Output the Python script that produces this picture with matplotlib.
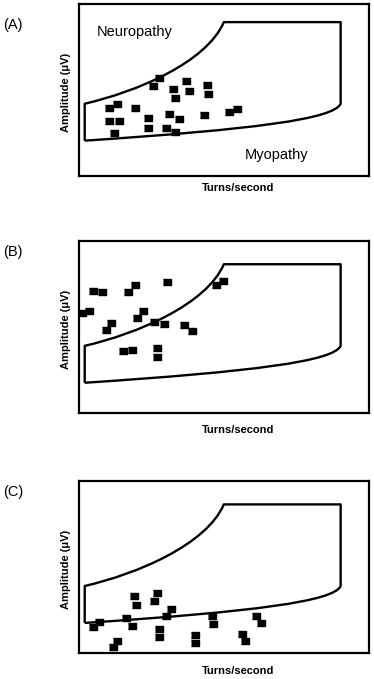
import matplotlib
matplotlib.use("Agg")
import matplotlib.pyplot as plt
from matplotlib.path import Path
from matplotlib.patches import PathPatch
from matplotlib.transforms import Affine2D

plt.rcParams['font.family'] = ['Liberation Sans', 'DejaVu Sans']

# scatter points per panel (x: turns/second, y: amplitude, arbitrary 0-100 units)
a_x = [10.5, 13.0, 19.5, 10.5, 13.9, 12.1, 25.6, 27.7, 32.4, 33.2, 36.9, 38.0,
       44.2, 44.4, 24.0, 23.7, 31.1, 34.6, 30.0, 33.1, 43.1, 51.7, 54.5]
a_y = [39.3, 42.1, 39.3, 32.2, 32.2, 25.2, 52.5, 57.0, 50.4, 45.2, 55.0, 49.2,
       52.9, 47.9, 33.5, 28.1, 35.9, 33.1, 27.9, 25.8, 35.5, 37.2, 39.0]

b_x = [0.9, 3.6, 4.8, 7.8, 9.3, 11.1, 17.0, 19.2, 20.1, 22.1, 26.0, 29.5,
       30.4, 15.2, 18.2, 26.9, 26.9, 36.2, 38.9, 47.2, 49.6]
b_y = [58.1, 59.1, 70.9, 70.2, 48.1, 52.5, 70.6, 74.3, 55.0, 59.2, 52.8, 51.7,
       76.4, 35.8, 36.3, 37.6, 32.4, 51.1, 47.8, 74.3, 76.6]

c_x = [4.9, 7.0, 11.8, 13.0, 16.4, 18.4, 18.9, 19.7, 25.8, 26.8, 27.7, 27.7,
       30.0, 31.8, 40.2, 40.2, 46.0, 46.4, 56.1, 57.2, 61.0, 62.9]
c_y = [15.0, 18.1, 3.5, 7.2, 20.5, 16.0, 33.2, 28.1, 30.0, 34.7, 13.9, 9.4,
       21.8, 25.9, 10.7, 5.7, 21.8, 17.0, 11.3, 6.8, 21.6, 17.4]

panels = ["(A)", "(B)", "(C)"]
xs = [a_x, b_x, c_x]
ys = [a_y, b_y, c_y]

# normal range envelope (schematic outline)
env_verts = [(2, 17.5), (2, 39), (20, 46), (44, 63), (50, 86.5), (90.3, 86.5),
             (90.3, 39), (88, 30), (60, 24), (2, 17.5)]
env_codes = [Path.MOVETO, Path.LINETO, Path.CURVE4, Path.CURVE4, Path.CURVE4,
             Path.LINETO, Path.LINETO, Path.CURVE4, Path.CURVE4, Path.CURVE4]
env_shift = [3, 0, 0]

rect = [(-1, -0.68), (1, -0.68), (1, 0.68), (-1, 0.68)]

fig = plt.figure(figsize=(3.74, 6.79), dpi=100)
bottoms = [0.741, 0.392, 0.0383]
label_y = [21, 11, 11]       # px below top of box
xlab_off = [12, 17.5, 18]    # px below bottom of box

for i in range(3):
    ax = fig.add_axes([0.211, bottoms[i], 0.775, 0.253])
    ax.set_xlim(0, 100)
    ax.set_ylim(0, 100)
    ax.set_xticks([])
    ax.set_yticks([])
    for s in ax.spines.values():
        s.set_linewidth(1.6)

    path = Path(env_verts, env_codes)
    patch = PathPatch(path, facecolor='none', edgecolor='black', lw=1.7,
                      joinstyle='round',
                      transform=Affine2D().translate(0, env_shift[i]) + ax.transData)
    ax.add_patch(patch)

    ax.plot(xs[i], ys[i], linestyle='none', marker=rect, markersize=5.3,
            color='black', clip_on=False)

    top_px = (1 - bottoms[i] - 0.253) * 679
    fig.text(3 / 374, 1 - (top_px + label_y[i]) / 679, panels[i],
             fontsize=10.5, va='center', ha='left')
    bot_px = top_px + 0.253 * 679
    fig.text(238 / 374, 1 - (bot_px + xlab_off[i]) / 679, "Turns/second",
             fontsize=8, fontweight='bold', ha='center', va='center')
    fig.text(66 / 374, 1 - (top_px + 88) / 679, "Amplitude (\u03bcV)",
             fontsize=8, fontweight='bold', rotation=90, ha='center', va='center')

    if i == 0:
        ax.text(6.2, 83.7, "Neuropathy", fontsize=10.5, va='center', ha='left')
        ax.text(57.2, 12.2, "Myopathy", fontsize=10.5, va='center', ha='left')

fig.savefig("out.png", dpi=100, facecolor='white')
